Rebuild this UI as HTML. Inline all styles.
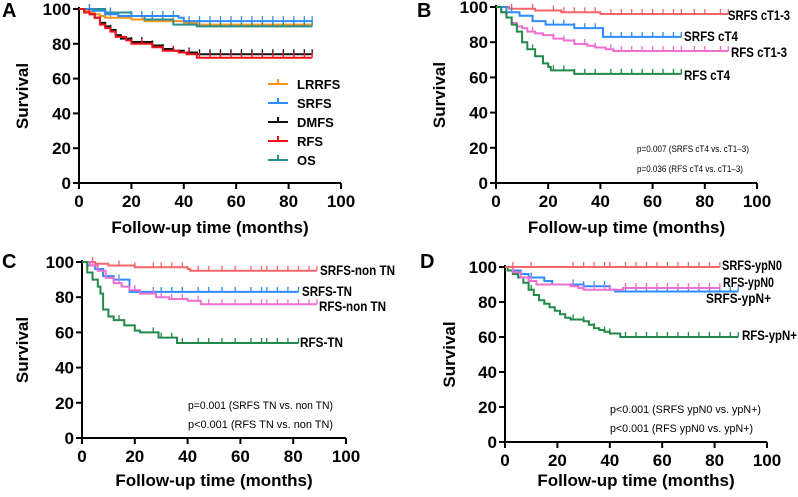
<!DOCTYPE html>
<html><head><meta charset="utf-8"><style>
html,body{margin:0;padding:0;background:#fff;}
svg{display:block;font-family:"Liberation Sans",Arial,sans-serif;}
.tick{font-size:17px;font-weight:bold;}
.title{font-size:17px;font-weight:bold;}
.lab{font-size:14px;font-weight:bold;}
.pv{font-size:11px;}
.pl{font-size:20px;font-weight:bold;}
</style></head><body>
<svg id="fig" width="798" height="497" viewBox="0 0 798 497"></svg>
<script>
const xTicks=[0,20,40,60,80,100];
const yTicks=[0,20,40,60,80,100];
// Panel A series [time, survival]
const aLRRFS=[[0,100],[2,99],[4,98],[6,97],[8,96],[10,95],[20,94],[25,93],[40,92],[45,91],[89,91]];
const aSRFS=[[0,100],[5,99],[10,97],[15,96],[38,95],[40,93],[89,93]];
const aDMFS=[[0,100],[2,98],[4,97],[6,95],[8,92],[10,90],[12,88],[14,85],[16,83],[20,81],[28,79],[32,77],[36,76],[40,75],[45,74],[89,74]];
const aRFS=[[0,100],[2,98],[4,97],[6,95],[8,91],[10,89],[12,87],[14,84],[18,82],[20,80],[28,78],[32,76],[38,75],[41,74],[45,72],[89,72]];
const aOS=[[0,100],[10,98],[20,96],[25,94],[36,91],[45,90],[89,90]];
// Panel B
const bSRFS13=[[0,100],[5,99],[15,98],[25,97],[40,96],[89,96]];
const bSRFS4=[[0,100],[4,97],[9,95],[14,92],[19,90],[30,88],[41,83],[71,83]];
const bRFS13=[[0,100],[2,97],[4,94],[6,91],[8,89],[10,88],[12,86],[15,85],[18,84],[22,82],[26,81],[30,79],[35,78],[38,77],[42,76],[45,75],[89,75]];
const bRFS4=[[0,100],[2,97],[4,94],[6,90],[8,86],[10,80],[12,76],[15,72],[18,68],[20,66],[21,64],[30,62],[71,62]];
// Panel C
const cSRFSnon=[[0,100],[5,99],[10,98],[20,97],[40,96],[41,95],[89,95]];
const cSRFStn=[[0,100],[2,98],[5,96],[8,92],[12,90],[18,83],[82,83]];
const cRFSnon=[[0,100],[3,98],[6,95],[9,91],[12,88],[15,86],[18,84],[22,82],[28,80],[33,79],[40,78],[45,76],[89,76]];
const cRFStn=[[0,100],[2,94],[4,90],[6,86],[7,82],[8,73],[10,69],[12,67],[16,64],[20,61],[22,60],[29,57],[36,54],[82,54]];
// Panel D
const dSRFSn0=[[0,100],[82,100]];
const dRFSn0=[[0,100],[3,97],[6,94],[9,92],[12,90],[25,89],[28,88],[30,87],[40,87],[45,88],[82,88]];
const dSRFSnp=[[0,100],[3,98],[6,96],[9,94],[15,92],[18,90],[30,89],[40,87],[42,86],[89,86]];
const dRFSnp=[[0,100],[1,98],[3,96],[5,94],[7,91],[9,87],[11,84],[13,81],[15,79],[17,77],[19,75],[21,73],[23,71],[25,70],[30,69],[32,67],[34,65],[36,64],[38,63],[40,62],[44,60],[89,60]];
// censor times
const censorA=[4,12,20,24,28,32,36,42,46,50,54,58,62,66,70,74,78,82,86,89];
const censorB=[6,14,22,26,30,34,38,44,48,52,56,60,64,68,71,76,80,86,89];
const censorC=[4,14,20,27,30,34,38,44,48,53,58,64,68,70,74,78,82,86,89];
const censorD=[3,10,26,30,34,38,40,46,50,54,58,62,66,70,74,78,82,86,89];

const NS='http://www.w3.org/2000/svg';
const svg=document.getElementById('fig');
function mk(tag,attrs,parent){const e=document.createElementNS(NS,tag);for(const k in attrs)e.setAttribute(k,attrs[k]);(parent||svg).appendChild(e);return e;}
function survAt(s,t){let v=s[0][1];for(const p of s){if(p[0]<=t)v=p[1];}return v;}

function panel(cfg){
  const g=mk('g',{});
  
  
  const X=v=>cfg.x0+(cfg.x1-cfg.x0)*v/100;
  const Y=v=>cfg.y0+(cfg.y1-cfg.y0)*v/100;
  const ax=mk('path',{d:`M${X(0)},${Y(100)-2}V${Y(0)}H${X(100)}`,stroke:'#000','stroke-width':2,fill:'none'},g);
  
  
  xTicks.forEach(t=>{
    mk('line',{x1:X(t),x2:X(t),y1:Y(0),y2:Y(0)+6,stroke:'#000','stroke-width':2},g);
    const tx=mk('text',{x:X(t),y:Y(0)+24,'text-anchor':'middle',class:'tick'},g);tx.textContent=t;
    
    
  });
  yTicks.forEach(t=>{
    mk('line',{x1:X(0)-6,x2:X(0),y1:Y(t),y2:Y(t),stroke:'#000','stroke-width':2},g);
    const tx=mk('text',{x:X(0)-8,y:Y(t)+6,'text-anchor':'end',class:'tick'},g);tx.textContent=t;
    
    
  });
  const xt=mk('text',{x:X(50),y:Y(0)+cfg.tOff,'text-anchor':'middle',class:'title'},g);xt.textContent='Follow-up time (months)';
  
  
  const yc=(Y(0)+Y(100))/2;
  const yt=mk('text',{x:cfg.yx,y:yc,'text-anchor':'middle',class:'title',transform:`rotate(-90 ${cfg.yx} ${yc})`},g);yt.textContent='Survival';
  
  
  const pl=mk('text',{x:cfg.lx,y:cfg.ly,class:'pl'},g);pl.textContent=cfg.letter;
  
  
  cfg.series.forEach(s=>{
    let d=`M${X(s.data[0][0])},${Y(s.data[0][1])}`;
    for(let i=1;i<s.data.length;i++){d+=`H${X(s.data[i][0])}V${Y(s.data[i][1])}`;}
    const p=mk('path',{d,stroke:s.color,'stroke-width':2,fill:'none'},g);
    
    
    const end=s.data[s.data.length-1][0];
    let cd='';
    s.censor.forEach(t=>{if(t<=end){const yy=Y(survAt(s.data,t));cd+=`M${X(t)},${yy}v-5`;}});
    const c=mk('path',{d:cd,stroke:s.color,'stroke-width':1.3,fill:'none'},g);
    
    
    if(s.label){const l=mk('text',{x:s.lx,y:s.ly,class:'lab',textLength:s.tl,lengthAdjust:'spacingAndGlyphs'},g);l.textContent=s.label;
      
      }
  });
  (cfg.pvals||[]).forEach(p=>{const t=mk('text',{x:p[1],y:p[2],class:'pv',style:'font-size:'+(cfg.pvs||11)+'px',textLength:p[3],lengthAdjust:'spacingAndGlyphs'},g);t.textContent=p[0];
    
    });
  return {g,X,Y};
}
const OR='#f7941d',BL='#2f8cff',BK='#111',RD='#f0121b',TL='#2a9090',SR='#f6666a',PK='#f06fd2',GR='#21894a';
const A=panel({id:'a',letter:'A',lx:2,ly:17,x0:79,x1:341,y0:183,y1:9,yx:28,tOff:50,series:[
 {name:'lrrfs',color:OR,data:aLRRFS,censor:censorA},
 {name:'os',color:TL,data:aOS,censor:censorA},
 {name:'srfs',color:BL,data:aSRFS,censor:censorA},
 {name:'dmfs',color:BK,data:aDMFS,censor:censorA},
 {name:'rfs',color:RD,data:aRFS,censor:censorA}]});
const legend=[['LRRFS',OR],['SRFS',BL],['DMFS',BK],['RFS',RD],['OS',TL]];
legend.forEach((e,i)=>{const y=84+i*19;
  const l=mk('path',{d:`M268,${y}H288M278,${y}v-5`,stroke:e[1],'stroke-width':2,fill:'none'},A.g);
  
  
  const t=mk('text',{x:297,y:y+5,class:'lab',style:'font-size:13px'},A.g);t.textContent=e[0];
  
  });
panel({id:'b',letter:'B',lx:417,ly:17,x0:496,x1:757,y0:183,y1:7,yx:445,tOff:50,pvs:9.5,series:[
 {name:'srfs-ct1-3',color:SR,data:bSRFS13,censor:censorB,label:'SRFS cT1-3',lx:728,ly:20,tl:62},
 {name:'srfs-ct4',color:BL,data:bSRFS4,censor:censorB,label:'SRFS cT4',lx:684,ly:41,tl:54},
 {name:'rfs-ct1-3',color:PK,data:bRFS13,censor:censorB,label:'RFS cT1-3',lx:731,ly:57,tl:56},
 {name:'rfs-ct4',color:GR,data:bRFS4,censor:censorB,label:'RFS cT4',lx:684,ly:80,tl:46}],
 pvals:[['p=0.007 (SRFS cT4 vs. cT1\u20133)',637,152,112],['p=0.036 (RFS cT4 vs. cT1\u20133)',637,172,106]]});
panel({id:'c',letter:'C',lx:2,ly:268,x0:82,x1:346,y0:438,y1:262,yx:28,tOff:48,series:[
 {name:'srfs-non-tn',color:SR,data:cSRFSnon,censor:censorC,label:'SRFS-non TN',lx:320,ly:275,tl:75},
 {name:'srfs-tn',color:BL,data:cSRFStn,censor:censorC,label:'SRFS-TN',lx:302,ly:296,tl:50},
 {name:'rfs-non-tn',color:PK,data:cRFSnon,censor:censorC,label:'RFS-non TN',lx:319,ly:311,tl:67},
 {name:'rfs-tn',color:GR,data:cRFStn,censor:censorC,label:'RFS-TN',lx:300,ly:347,tl:43}],
 pvals:[['p=0.001 (SRFS TN vs. non TN)',188,409,145],['p<0.001 (RFS TN vs. non TN)',188,428,145]]});
panel({id:'d',letter:'D',lx:420,ly:268,x0:505,x1:767,y0:442,y1:267,yx:455,tOff:44,series:[
 {name:'rfs-ypn-plus',color:GR,data:dRFSnp,censor:censorD,label:'RFS-ypN+',lx:742,ly:340,tl:55},
 {name:'srfs-ypn-plus',color:BL,data:dSRFSnp,censor:censorD,label:'SRFS-ypN+',lx:706,ly:303,tl:65},
 {name:'rfs-ypn0',color:PK,data:dRFSn0,censor:censorD,label:'RFS-ypN0',lx:723,ly:287,tl:51},
 {name:'srfs-ypn0',color:SR,data:dSRFSn0,censor:censorD,label:'SRFS-ypN0',lx:722,ly:270,tl:60}],
 pvals:[['p<0.001 (SRFS ypN0 vs. ypN+)',610,413,151],['p<0.001 (RFS ypN0 vs. ypN+)',610,432,143]]});
</script>
</body></html>
